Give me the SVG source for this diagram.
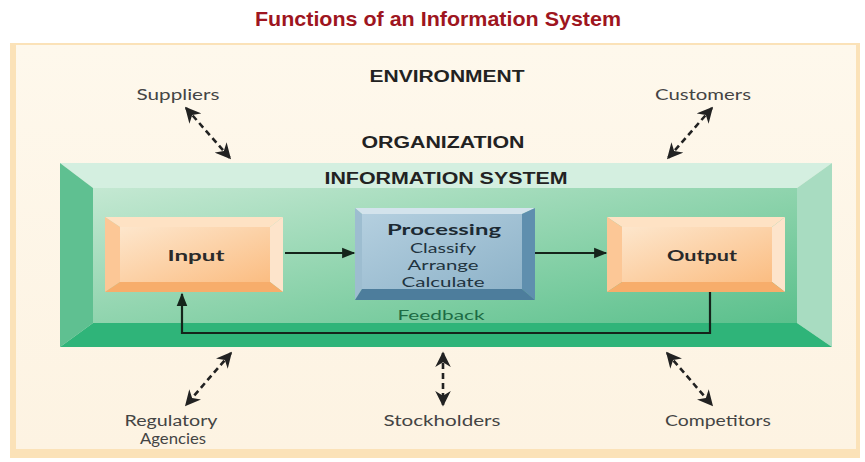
<svg xmlns="http://www.w3.org/2000/svg" width="865" height="462" viewBox="0 0 865 462">
<style>
.lbl{font-family:Lato,"Open Sans",sans-serif;font-size:14.5px;fill:#444;text-anchor:middle}
.cap{font-family:"Liberation Sans",Arial,sans-serif;font-weight:bold;font-size:16px;fill:#222;text-anchor:middle}
.box{font-family:Lato,"Open Sans",sans-serif;font-weight:bold;font-size:16px;fill:#2a2a2a;text-anchor:middle}
.proc{font-family:Lato,"Open Sans",sans-serif;font-size:14px;fill:#1f3440;text-anchor:middle}
.dash{fill:none;stroke:#222;stroke-width:2.6;stroke-dasharray:6 4}
.solid{fill:none;stroke:#15241b;stroke-width:2.2}
</style>
<defs>
<marker id="ah" viewBox="0 0 10 10" refX="9" refY="5" markerWidth="6" markerHeight="6" orient="auto-start-reverse" markerUnits="strokeWidth">
<path d="M0,0 L10,5 L0,10 L3,5 Z" fill="#222"/>
</marker>
<marker id="ah2" viewBox="0 0 10 10" refX="9" refY="5" markerWidth="8" markerHeight="6" orient="auto" markerUnits="strokeWidth">
<path d="M0,1 L10,5 L0,9 Z" fill="#15241b"/>
</marker>
<linearGradient id="gface" x1="0" y1="0" x2="1" y2="1">
<stop offset="0" stop-color="#c4e8d2"/>
<stop offset="0.55" stop-color="#8ad2aa"/>
<stop offset="1" stop-color="#5ac08c"/>
</linearGradient>
<linearGradient id="oface" x1="0" y1="0" x2="1" y2="1">
<stop offset="0" stop-color="#fde6cc"/>
<stop offset="1" stop-color="#fbbd82"/>
</linearGradient>
<linearGradient id="bface" x1="0" y1="0" x2="1" y2="1">
<stop offset="0" stop-color="#b4cfdf"/>
<stop offset="1" stop-color="#8eb3c9"/>
</linearGradient>
<linearGradient id="panel" x1="0" y1="0" x2="0" y2="1">
<stop offset="0" stop-color="#fef8ec"/>
<stop offset="1" stop-color="#fdf3e2"/>
</linearGradient>
</defs>
<rect x="0" y="0" width="865" height="462" fill="#ffffff"/>
<text x="438" y="26" font-family="Liberation Sans,Arial,sans-serif" font-weight="bold" font-size="21" fill="#9e1520" text-anchor="middle" textLength="366" lengthAdjust="spacingAndGlyphs">Functions of an Information System</text>

<g id="environment">
<rect x="10" y="43" width="850" height="415" fill="#fbe2b8"/>
<rect x="16" y="45" width="840" height="404" fill="url(#panel)"/>
<text class="cap" x="447" y="82" textLength="155" lengthAdjust="spacingAndGlyphs">ENVIRONMENT</text>
<text class="cap" x="443" y="148" textLength="163" lengthAdjust="spacingAndGlyphs">ORGANIZATION</text>
</g>

<g id="information-system">
<polygon points="60,163 832,163 797,188 93,188" fill="#d4efe0"/>
<polygon points="60,163 93,188 93,323 60,347" fill="#5fc091"/>
<polygon points="832,163 832,347 797,323 797,188" fill="#a8dcc1"/>
<polygon points="60,347 832,347 797,323 93,323" fill="#2fb479"/>
<rect x="93" y="188" width="704" height="135" fill="url(#gface)"/>
<text class="cap" x="446" y="184" textLength="243" lengthAdjust="spacingAndGlyphs">INFORMATION SYSTEM</text>
</g>

<g id="input">
<polygon points="105,217 283,217 270,227 120,227" fill="#fee2c4"/>
<polygon points="105,217 120,227 120,282 105,292" fill="#fcc796"/>
<polygon points="283,217 283,292 270,282 270,227" fill="#fde4cb"/>
<polygon points="105,292 283,292 270,282 120,282" fill="#f7ad6b"/>
<rect x="120" y="227" width="150" height="55" fill="url(#oface)"/>
<text class="box" x="196" y="261" textLength="57" lengthAdjust="spacingAndGlyphs">Input</text>
</g>

<g id="processing">
<polygon points="355,208 535,208 522,214 362,214" fill="#d3e3ec"/>
<polygon points="355,208 362,214 362,289 355,300" fill="#9dbdd0"/>
<polygon points="535,208 535,300 522,289 522,214" fill="#5f8fae"/>
<polygon points="355,300 535,300 522,289 362,289" fill="#4d7d9c"/>
<rect x="362" y="214" width="160" height="75" fill="url(#bface)"/>
<text class="box" x="444" y="235" textLength="114" lengthAdjust="spacingAndGlyphs" style="fill:#1c2a33">Processing</text>
<text class="proc" x="443" y="253" textLength="66" lengthAdjust="spacingAndGlyphs">Classify</text>
<text class="proc" x="443" y="270" textLength="71" lengthAdjust="spacingAndGlyphs">Arrange</text>
<text class="proc" x="443" y="287" textLength="83" lengthAdjust="spacingAndGlyphs">Calculate</text>
</g>

<g id="output">
<polygon points="607,217 785,217 772,227 622,227" fill="#fee2c4"/>
<polygon points="607,217 622,227 622,282 607,292" fill="#fcc796"/>
<polygon points="785,217 785,292 772,282 772,227" fill="#fde4cb"/>
<polygon points="607,292 785,292 772,282 622,282" fill="#f7ad6b"/>
<rect x="622" y="227" width="150" height="55" fill="url(#oface)"/>
<text class="box" x="702" y="261" textLength="70" lengthAdjust="spacingAndGlyphs">Output</text>
</g>

<g id="feedback-label">
<text class="proc" x="441" y="320" textLength="87" lengthAdjust="spacingAndGlyphs" style="fill:#1d6b45">Feedback</text>
</g>

<g id="suppliers"><text class="lbl" x="178" y="100" textLength="83" lengthAdjust="spacingAndGlyphs">Suppliers</text></g>
<g id="customers"><text class="lbl" x="703" y="100" textLength="96" lengthAdjust="spacingAndGlyphs">Customers</text></g>
<g id="regulatory-agencies"><text class="lbl" x="171" y="426" textLength="93" lengthAdjust="spacingAndGlyphs">Regulatory</text><text class="lbl" x="173" y="444" textLength="66" lengthAdjust="spacingAndGlyphs">Agencies</text></g>
<g id="stockholders"><text class="lbl" x="442" y="426" textLength="117" lengthAdjust="spacingAndGlyphs">Stockholders</text></g>
<g id="competitors"><text class="lbl" x="718" y="426" textLength="106" lengthAdjust="spacingAndGlyphs">Competitors</text></g>

<g id="connectors">
<line class="solid" x1="285" y1="253" x2="354" y2="253" marker-end="url(#ah2)"/>
<line class="solid" x1="535" y1="253" x2="606" y2="253" marker-end="url(#ah2)"/>
<path class="solid" d="M710,292 V333 H182 V294" marker-end="url(#ah2)"/>
<line class="dash" x1="186" y1="108" x2="230" y2="158" marker-start="url(#ah)" marker-end="url(#ah)"/>
<line class="dash" x1="712" y1="108" x2="668" y2="158" marker-start="url(#ah)" marker-end="url(#ah)"/>
<line class="dash" x1="231" y1="353" x2="186" y2="405" marker-start="url(#ah)" marker-end="url(#ah)"/>
<line class="dash" x1="443" y1="353" x2="443" y2="405" marker-start="url(#ah)" marker-end="url(#ah)"/>
<line class="dash" x1="667" y1="353" x2="712" y2="405" marker-start="url(#ah)" marker-end="url(#ah)"/>
</g>
</svg>
